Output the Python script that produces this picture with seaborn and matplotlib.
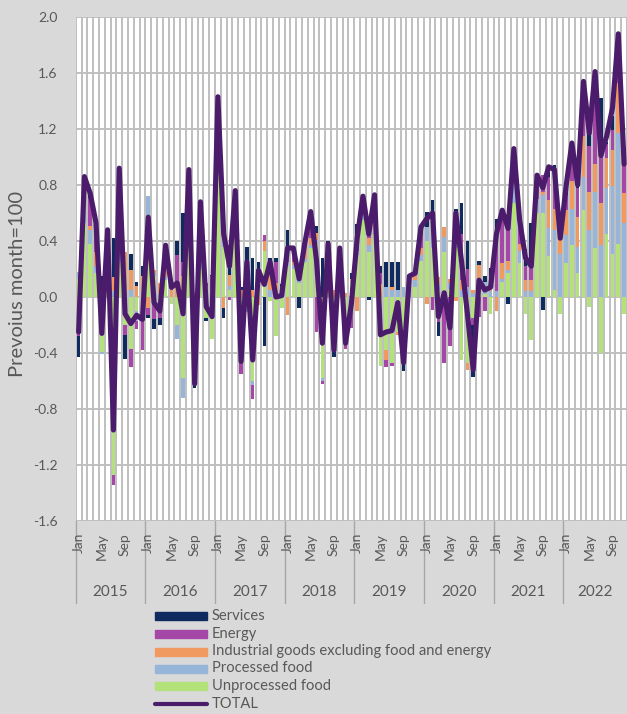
import numpy as np
import matplotlib
matplotlib.use("Agg")
import matplotlib.pyplot as plt
import seaborn as sns
from matplotlib.lines import Line2D
from matplotlib.patches import Rectangle

# monthly contributions, Jan 2015 - Nov 2022 (previous month = 100)
years = ["2015", "2016", "2017", "2018", "2019", "2020", "2021", "2022"]
month_names = ["Jan", "Feb", "Mar", "Apr", "May", "Jun",
               "Jul", "Aug", "Sep", "Oct", "Nov", "Dec"]
shown_months = ["Jan", "May", "Sep"]

unprocessed = [0.13, 0.53, 0.38, 0.17, -0.39, 0.20, -1.27, 0.25, -0.20, -0.37, -0.10, -0.05,
               0.58, 0.15, -0.05, 0.12, -0.05, -0.20, -0.58, 0.55, -0.45, 0.20, -0.15, -0.30,
               1.05, 0.36, 0.05, 0.55, -0.30, -0.08, -0.60, 0.12, 0.33, -0.03, -0.28, -0.08,
               0.22, 0.20, 0.10, 0.25, 0.35, 0.38, -0.58, 0.05, -0.25, 0.05, -0.15, 0.10,
               0.30, 0.55, 0.32, 0.45, -0.49, -0.38, -0.47, -0.25, -0.30, 0.00, 0.07, 0.26,
               0.40, 0.35, 0.05, 0.32, 0.06, 0.35, -0.45, -0.47, -0.15, 0.07, 0.02, -0.12,
               0.00, 0.11, 0.17, 0.67, 0.24, -0.12, -0.31, 0.60, 0.60, 0.29, 0.05, -0.12,
               0.24, 0.37, 0.17, 0.62, -0.07, 0.35, -0.40, 0.45, 0.31, 0.38, -0.12]
processed = [0.05, 0.10, 0.10, 0.05, -0.02, 0.05, 0.04, 0.10, 0.02, 0.05, -0.07, -0.08,
             0.14, 0.02, 0.02, 0.02, 0.00, -0.10, -0.14, 0.05, -0.05, 0.05, 0.02, 0.03,
             0.10, 0.14, 0.03, 0.03, -0.05, -0.03, -0.03, 0.00, 0.00, 0.05, 0.02, 0.02,
             0.03, 0.03, 0.02, 0.02, 0.02, 0.03, -0.02, 0.00, -0.02, 0.03, 0.00, 0.01,
             0.03, 0.05, 0.05, 0.03, 0.00, 0.07, 0.05, 0.05, 0.07, 0.10, 0.05, 0.04,
             0.10, 0.10, 0.04, 0.11, 0.04, 0.07, 0.05, 0.07, 0.03, 0.06, 0.09, 0.04,
             0.04, 0.02, 0.02, 0.14, 0.09, 0.04, 0.04, 0.10, 0.13, 0.20, 0.43, 0.31,
             0.20, 0.26, 0.19, 0.24, 0.48, 0.40, 0.37, 0.33, 0.48, 0.79, 0.53]
industrial = [-0.22, 0.05, 0.03, 0.10, 0.05, 0.03, 0.10, 0.12, 0.30, 0.14, 0.08, 0.15,
              -0.08, 0.02, 0.08, 0.08, 0.05, 0.10, 0.15, 0.08, 0.03, 0.30, 0.05, 0.02,
              0.08, -0.08, 0.08, 0.15, 0.05, 0.02, 0.05, -0.06, 0.07, 0.17, 0.08, 0.00,
              -0.13, 0.02, 0.05, 0.10, 0.05, 0.05, 0.00, 0.00, 0.05, 0.20, 0.03, 0.02,
              -0.10, 0.03, 0.05, 0.10, 0.09, -0.07, 0.02, -0.02, -0.05, 0.00, 0.04, 0.05,
              -0.05, 0.08, 0.05, 0.07, 0.03, -0.03, 0.07, -0.05, 0.02, 0.10, 0.00, 0.02,
              -0.10, 0.11, 0.07, 0.04, 0.05, 0.08, 0.08, 0.00, 0.02, 0.20, 0.15, 0.10,
              0.18, 0.20, 0.21, 0.29, 0.27, 0.20, 0.30, 0.21, 0.26, 0.36, 0.21]
energy = [-0.06, 0.15, 0.20, 0.16, 0.02, 0.10, -0.07, 0.15, -0.07, -0.13, -0.06, -0.25,
          -0.05, -0.16, -0.10, 0.10, 0.05, 0.20, 0.10, 0.10, -0.10, 0.08, 0.03, 0.10,
          0.15, 0.10, -0.02, 0.00, -0.20, 0.04, -0.10, 0.05, 0.04, 0.00, 0.15, 0.05,
          0.07, 0.05, 0.04, 0.00, 0.15, -0.25, -0.02, 0.05, -0.05, 0.02, -0.22, -0.22,
          0.03, 0.05, 0.05, 0.12, 0.08, -0.05, -0.02, 0.00, -0.10, 0.00, 0.01, 0.10,
          0.00, -0.09, -0.18, -0.47, -0.35, 0.13, 0.33, 0.13, -0.05, -0.14, -0.10, 0.05,
          0.44, 0.38, 0.28, 0.15, 0.12, 0.10, 0.10, 0.17, 0.12, 0.17, 0.26, 0.06,
          0.11, 0.19, 0.21, 0.39, 0.33, 0.56, 0.43, 0.10, 0.14, 0.30, 0.28]
services = [-0.15, 0.03, 0.03, 0.05, 0.08, 0.10, 0.28, 0.30, -0.17, 0.12, 0.03, 0.07,
            -0.02, -0.07, -0.05, 0.05, 0.02, 0.10, 0.35, 0.13, -0.05, 0.05, -0.02, 0.01,
            0.05, -0.07, 0.08, 0.03, 0.02, 0.30, 0.23, 0.08, -0.35, 0.06, 0.03, 0.02,
            0.16, 0.05, -0.08, 0.02, 0.04, 0.05, 0.28, 0.30, -0.11, 0.05, 0.00, 0.04,
            0.16, 0.04, -0.02, 0.03, 0.05, 0.18, 0.18, 0.20, -0.08, 0.05, 0.00, 0.05,
            0.11, 0.16, -0.10, 0.00, 0.00, 0.08, 0.22, 0.20, -0.37, 0.03, 0.04, 0.10,
            0.08, 0.00, -0.05, 0.06, 0.03, 0.12, 0.31, 0.00, -0.09, 0.07, 0.05, 0.05,
            0.06, 0.08, 0.02, 0.00, 0.13, 0.10, 0.32, 0.02, 0.10, 0.05, 0.05]
total = [-0.25, 0.86, 0.74, 0.53, -0.26, 0.48, -0.95, 0.92, -0.12, -0.19, -0.13, -0.16,
         0.57, -0.04, -0.10, 0.37, 0.07, 0.10, -0.12, 0.91, -0.62, 0.68, -0.07, -0.14,
         1.43, 0.45, 0.22, 0.76, -0.46, 0.25, -0.45, 0.19, 0.09, 0.25, 0.00, 0.01,
         0.35, 0.35, 0.13, 0.39, 0.61, 0.26, -0.33, 0.38, -0.38, 0.35, -0.33, -0.05,
         0.42, 0.72, 0.45, 0.73, -0.27, -0.25, -0.24, -0.04, -0.47, 0.15, 0.17, 0.50,
         0.56, 0.60, -0.14, 0.03, -0.22, 0.60, 0.25, -0.12, -0.52, 0.12, 0.05, 0.07,
         0.45, 0.62, 0.49, 1.06, 0.55, 0.28, 0.22, 0.87, 0.78, 0.93, 0.91, 0.42,
         0.79, 1.10, 0.80, 1.54, 1.17, 1.61, 1.01, 1.15, 1.35, 1.88, 0.95]

TEXT = "#595959"
GRID = "#bfbfbf"
BG = "#d9d9d9"
LINE = "#4b1c6b"

# stacking order from zero outwards, legend shows it reversed
series = [
    ("Unprocessed food", unprocessed, "#b3e27b"),
    ("Processed food", processed, "#96b5d9"),
    ("Industrial goods excluding food and energy", industrial, "#f09a62"),
    ("Energy", energy, "#a447a6"),
    ("Services", services, "#0e2a5e"),
]

sns.set_theme(style="white")
plt.rcParams["font.family"] = ["Lato", "DejaVu Sans"]
plt.rcParams["axes.unicode_minus"] = False

n = len(total)
x = np.arange(n)

W, H = 627, 714
fig = plt.figure(figsize=(W / 100, H / 100), dpi=100, facecolor=BG)
ax = fig.add_axes([75.7 / W, (H - 521) / H, (W - 75.7) / W, 504 / H])
ax.set_facecolor("white")

pos_base = np.zeros(n)
neg_base = np.zeros(n)
for label, vals, col in series:
    v = np.array(vals)
    base = np.where(v >= 0, pos_base, neg_base)
    ax.bar(x, v, bottom=base, width=0.62, color=col, linewidth=0, zorder=2)
    pos_base += np.clip(v, 0, None)
    neg_base += np.clip(v, None, 0)

sns.lineplot(x=x, y=total, ax=ax, color=LINE, linewidth=3.7, zorder=3,
             solid_joinstyle="round", solid_capstyle="round")

# axes, grid
yticks = np.round(np.arange(-1.6, 2.01, 0.4), 1) + 0.0
ax.set_ylim(-1.6, 2.0)
ax.set_xlim(-0.5, n - 0.5)
ax.set_yticks(yticks)
ax.set_yticklabels([f"{abs(t):.1f}" if abs(t) < 1e-9 else f"{t:.1f}" for t in yticks],
                   color=TEXT, fontsize=10)
ax.set_xticks([])
ax.set_xticks(np.arange(-0.5, n, 1), minor=True)
ax.grid(True, axis="y", color=GRID, linewidth=1.4, zorder=0)
ax.grid(True, axis="x", which="minor", color=GRID, linewidth=1.4, zorder=0)
ax.set_axisbelow(True)
ax.tick_params(axis="y", length=0, pad=13)
ax.tick_params(axis="x", which="minor", length=34, width=0.8, color="#a6a6a6",
               direction="out")
ax.tick_params(axis="x", which="minor", labelbottom=False)
for s in ax.spines.values():
    s.set_visible(False)

fig.text(18 / W, 1 - 284 / H, "Prevoius month=100", rotation=90, ha="center",
         va="center", color=TEXT, fontsize=14.5)

# two-level category axis: months and years
tr = ax.get_xaxis_transform()
for k in range(n):
    name = month_names[k % 12]
    if name in shown_months:
        ax.text(k, -12 / 504, name, transform=tr, rotation=90, ha="center",
                va="top", color=TEXT, fontsize=10)
for j, yr in enumerate(years):
    first = 12 * j
    last = min(12 * j + 11, n - 1)
    ax.text((first + last) / 2, -71 / 504, yr, transform=tr, ha="center",
            va="center", color=TEXT, fontsize=11)
    ax.add_line(Line2D([first - 0.5, first - 0.5], [0, -82 / 504], transform=tr,
                       color="#a6a6a6", linewidth=1, clip_on=False))

# legend
rows = [616, 634, 651.5, 668.5, 686, 703.5]
for (label, vals, col), ry in zip(series[::-1], rows):
    fig.patches.append(Rectangle((155 / W, 1 - (ry + 4) / H), 52 / W, 8 / H,
                                 transform=fig.transFigure, color=col))
    fig.text(212 / W, 1 - ry / H, label, ha="left", va="center", color=TEXT,
             fontsize=10.6)
fig.add_artist(Line2D([155 / W, 207 / W], [1 - rows[-1] / H] * 2,
                      transform=fig.transFigure, color=LINE, linewidth=3,
                      solid_capstyle="round"))
fig.text(212 / W, 1 - rows[-1] / H, "TOTAL", ha="left", va="center", color=TEXT,
         fontsize=10.6)

fig.savefig("out.png", dpi=100, facecolor=BG)
